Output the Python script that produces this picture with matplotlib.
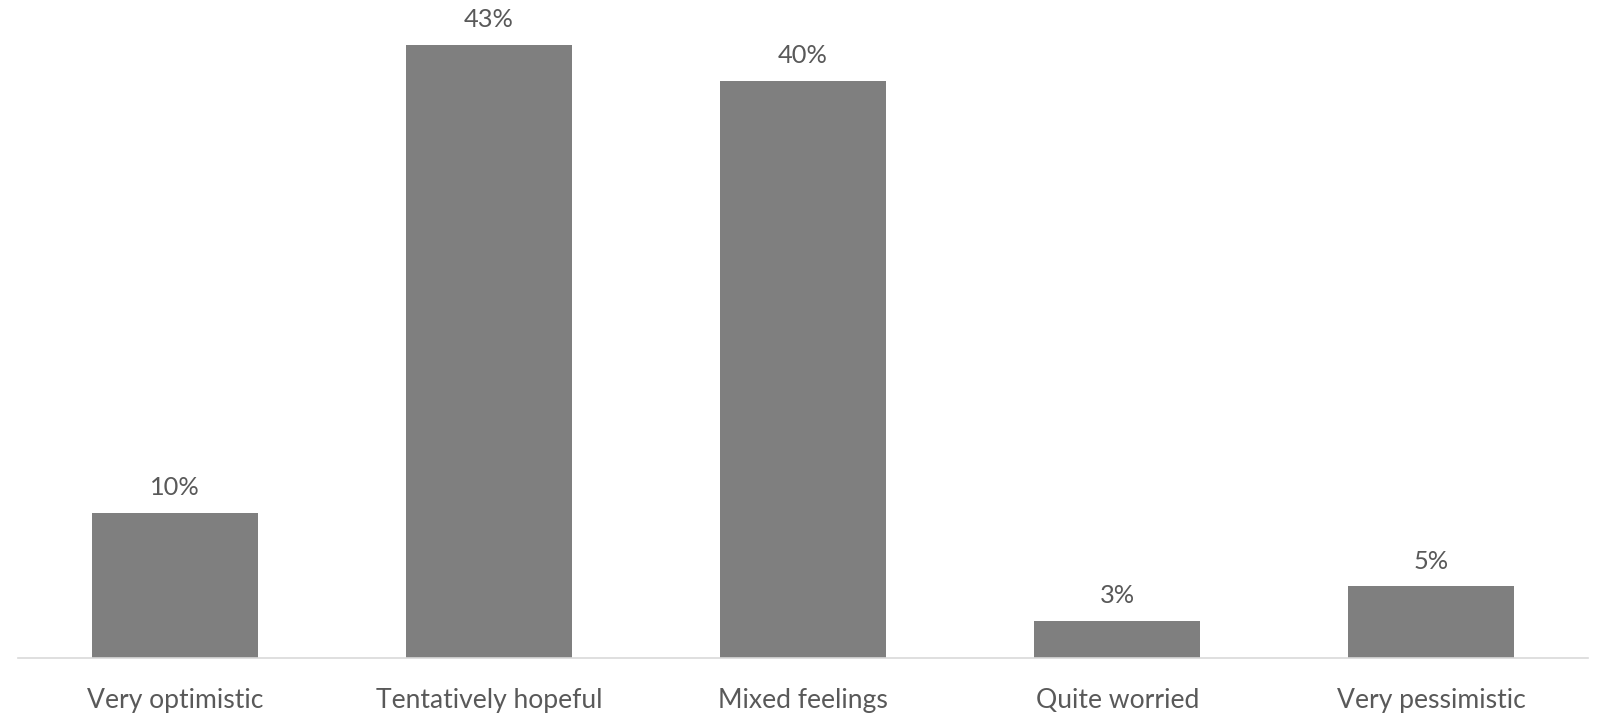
import matplotlib
matplotlib.use("Agg")
import matplotlib.pyplot as plt

categories = ["Very optimistic", "Tentatively hopeful", "Mixed feelings", "Quite worried", "Very pessimistic"]
values = [10.1, 42.6, 40.1, 2.6, 5.0]

W, H = 1599, 714
fig = plt.figure(figsize=(W / 100, H / 100), dpi=100)
ax = fig.add_axes([17.9 / W, (H - 658) / H, 1570.5 / W, 658 / H])

font = dict(family=["Lato", "DejaVu Sans"], fontweight="normal", color="#595959")

x = list(range(len(categories)))
bars = ax.bar(x, values, width=0.529, color="#7f7f7f")
ax.set_xlim(-0.5, len(categories) - 0.5)
ax.set_ylim(0, 45.7)

for xi, v in zip(x, values):
    ax.annotate(f"{round(v)}%", (xi, v), xytext=(0, 12.5), textcoords="offset points",
                ha="center", va="baseline", fontsize=18.3, **font)

ax.set_xticks(x)
ax.set_xticklabels(categories, fontsize=19.1, **font)
ax.tick_params(axis="x", length=0, pad=21.5)
ax.set_yticks([])
for s in ["top", "left", "right"]:
    ax.spines[s].set_visible(False)
ax.spines["bottom"].set_color("#d9d9d9")
ax.spines["bottom"].set_linewidth(1.2)

fig.savefig("out.png", dpi=100)
